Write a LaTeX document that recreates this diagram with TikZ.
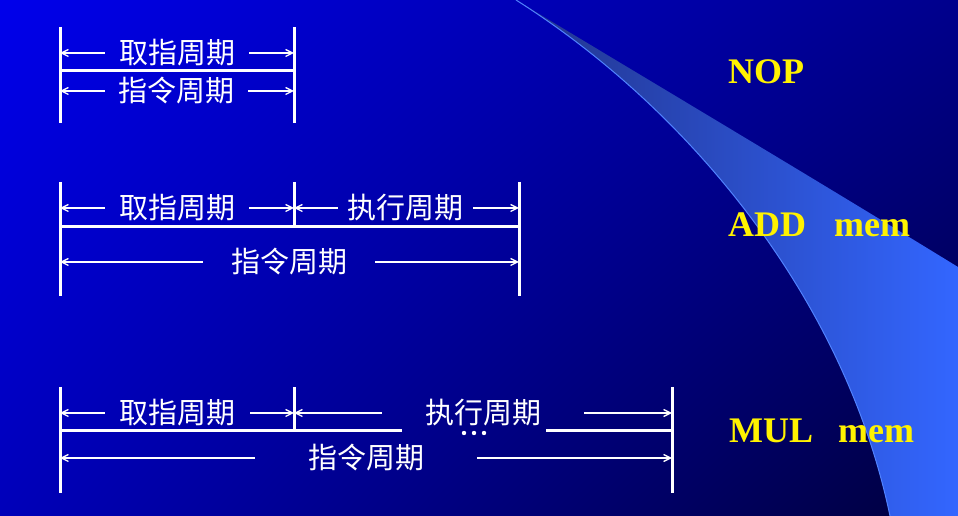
\documentclass[tikz,border=0pt]{standalone}
\usepackage{fontspec}
\setmainfont{Liberation Serif}
\newfontfamily\cjk{Noto Sans CJK SC}
\usetikzlibrary{arrows.meta, shadings}

\definecolor{bgul}{RGB}{0,0,235}
\definecolor{bgur}{RGB}{0,0,140}
\definecolor{bgll}{RGB}{0,0,185}
\definecolor{bglr}{RGB}{0,0,60}
\definecolor{swdark}{RGB}{34,52,140}
\definecolor{swmid}{RGB}{48,94,242}
\definecolor{swlight}{RGB}{51,102,255}
\definecolor{swedge}{RGB}{80,130,255}

\tikzset{
  cyc/.style={text=white, font=\cjk\fontsize{29}{29}\selectfont, inner sep=0pt, minimum height=30},
  op/.style={text=yellow, font=\bfseries\fontsize{36}{36}\selectfont, inner sep=0pt, anchor=base west},
  bar/.style={white, line width=3pt},
  spanline/.style={white, line width=1.3pt, -{Straight Barb[length=7pt,width=7pt]}}
}

\begin{document}
\begin{tikzpicture}[x=1pt, y=1pt]
  \useasboundingbox (0,0) rectangle (958,516);

  % Background and swoosh
  \shade[upper left=bgul, upper right=bgur, lower left=bgll, lower right=bglr]
    (0,0) rectangle (958,516);
  \shade[left color=swdark, middle color=swmid, right color=swlight]
    (516,516) .. controls (640,441) and (800,346) .. (958,249) -- (958,0) -- (890,0)
    .. controls (845,216) and (690,406) .. (516,516) -- cycle;
  \draw[swedge, line width=1pt]
    (516,516) .. controls (690,406) and (845,216) .. (890,0);

  % NOP
  \coordinate (na) at (60,489);  \coordinate (nb) at (60,393);
  \coordinate (nc) at (294,489); \coordinate (nd) at (294,393);
  \coordinate (nm) at (60,445);
  \draw[bar] (na) -- (nb);
  \draw[bar] (nc) -- (nd);
  \draw[bar] (nm) -- (nm -| nc);
  \node[cyc, minimum width=144] (fa) at (177,463) {取指周期};
  \node[cyc, minimum width=143] (ia) at (176.5,425) {指令周期};
  \draw[spanline] (fa.west) -- (fa.west -| na);
  \draw[spanline] (fa.east) -- (fa.east -| nc);
  \draw[spanline] (ia.west) -- (ia.west -| na);
  \draw[spanline] (ia.east) -- (ia.east -| nc);
  \node[op] (nop) at (728,432) {NOP};

  % ADD mem
  \coordinate (aa) at (60,334);  \coordinate (ab) at (60,220);
  \coordinate (ac) at (294,334); \coordinate (ad) at (294,289);
  \coordinate (ae) at (519,334); \coordinate (af) at (519,220);
  \draw[bar] (aa) -- (ab);
  \draw[bar] (ac) -- (ad);
  \draw[bar] (ae) -- (af);
  \draw[bar] (ad -| aa) -- (ad -| ae);
  \node[cyc, minimum width=144] (fb) at (177,308) {取指周期};
  \node[cyc, minimum width=135] (eb) at (405.5,308) {执行周期};
  \node[cyc, minimum width=172] (ib) at (289,254) {指令周期};
  \draw[spanline] (fb.west) -- (fb.west -| aa);
  \draw[spanline] (fb.east) -- (fb.east -| ac);
  \draw[spanline] (eb.west) -- (eb.west -| ac);
  \draw[spanline] (eb.east) -- (eb.east -| ae);
  \draw[spanline] (ib.west) -- (ib.west -| aa);
  \draw[spanline] (ib.east) -- (ib.east -| ae);
  \node[op] (add) at (728,279) {ADD\hspace{28pt}mem};

  % MUL mem
  \coordinate (ma) at (60,129);  \coordinate (mb) at (60,23);
  \coordinate (mc) at (294,129); \coordinate (md) at (294,85);
  \coordinate (me) at (672,129); \coordinate (mf) at (672,23);
  \draw[bar] (ma) -- (mb);
  \draw[bar] (mc) -- (md);
  \draw[bar] (me) -- (mf);
  \node[minimum width=144, inner sep=0pt] (dc) at (474,85) {};
  \draw[bar] (md -| ma) -- (dc.west);
  \draw[bar] (dc.east) -- (md -| me);
  \foreach \dx in {-10,0,10}
    \fill[white] ([xshift=\dx]dc.center) ++(0,-2) circle (2.2);
  \node[cyc, minimum width=145] (fc) at (177.5,103) {取指周期};
  \node[cyc, minimum width=202] (ec) at (483,103) {执行周期};
  \node[cyc, minimum width=222] (ic) at (366,58) {指令周期};
  \draw[spanline] (fc.west) -- (fc.west -| ma);
  \draw[spanline] (fc.east) -- (fc.east -| mc);
  \draw[spanline] (ec.west) -- (ec.west -| mc);
  \draw[spanline] (ec.east) -- (ec.east -| me);
  \draw[spanline] (ic.west) -- (ic.west -| ma);
  \draw[spanline] (ic.east) -- (ic.east -| me);
  \node[op] (mul) at (729,73) {MUL\hspace{25pt}mem};
\end{tikzpicture}
\end{document}
